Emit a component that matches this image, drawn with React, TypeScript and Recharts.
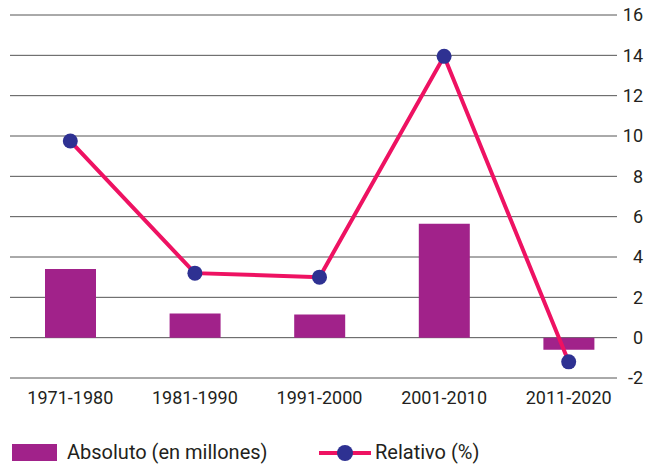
import React from 'react';
import {
  ComposedChart,
  Bar,
  Line,
  XAxis,
  YAxis,
  CartesianGrid,
} from 'recharts';

const categories = ['1971-1980', '1981-1990', '1991-2000', '2001-2010', '2011-2020'];
const absoluto = [3.4, 1.2, 1.15, 5.65, -0.6];
const relativo = [9.75, 3.2, 3.0, 13.95, -1.2];
const yTicks = [-2, 0, 2, 4, 6, 8, 10, 12, 14, 16];

const data = categories.map((name, i) => ({
  name,
  absoluto: absoluto[i],
  relativo: relativo[i],
}));

const PURPLE = '#a1228a';
const PINK = '#ee1262';
const NAVY = '#2e3192';
const TEXT = '#231f20';
const FONT = 'Roboto, "Liberation Sans", Arial, sans-serif';

const App = () => {
  return (
    <div style={{ position: 'absolute', left: 0, top: 0, width: 657, height: 464, fontFamily: FONT, overflow: 'hidden' }}>
      <ComposedChart
        width={657}
        height={464}
        data={data}
        margin={{ top: 15, right: 0, left: 8, bottom: 56 }}
      >
        <CartesianGrid vertical={false} stroke="#555" x={10} width={607} />
        <XAxis
          dataKey="name"
          axisLine={false}
          tickLine={false}
          tickSize={0}
          tickMargin={13}
          height={30}
          tick={{ fill: TEXT, fontSize: 18, fontFamily: FONT }}
        />
        <YAxis
          orientation="right"
          domain={[-2, 16]}
          ticks={yTicks}
          interval={0}
          axisLine={false}
          tickLine={false}
          tickSize={0}
          tickMargin={0}
          width={26}
          tick={{ fill: TEXT, fontSize: 18, fontFamily: FONT, textAnchor: 'end', dx: 12 }}
        />
        <Bar dataKey="absoluto" fill={PURPLE} barSize={51} isAnimationActive={false} />
        <Line
          dataKey="relativo"
          type="linear"
          stroke={PINK}
          strokeWidth={4}
          dot={{ r: 7.5, fill: NAVY, stroke: NAVY, strokeWidth: 0 }}
          activeDot={false}
          isAnimationActive={false}
        />
      </ComposedChart>

      {/* legend */}
      <div style={{ position: 'absolute', left: 12, top: 444, width: 45, height: 17, background: PURPLE }} />
      <div style={{ position: 'absolute', left: 67, top: 441, fontSize: 20, lineHeight: '22px', color: TEXT, whiteSpace: 'nowrap' }}>
        Absoluto (en millones)
      </div>
      <svg style={{ position: 'absolute', left: 318, top: 444 }} width={54} height={18}>
        <line x1={1} y1={9} x2={53} y2={9} stroke={PINK} strokeWidth={4} />
        <circle cx={27} cy={9} r={8} fill={NAVY} />
      </svg>
      <div style={{ position: 'absolute', left: 375, top: 441, fontSize: 20, lineHeight: '22px', color: TEXT, whiteSpace: 'nowrap' }}>
        Relativo (%)
      </div>
    </div>
  );
};

export default App;
